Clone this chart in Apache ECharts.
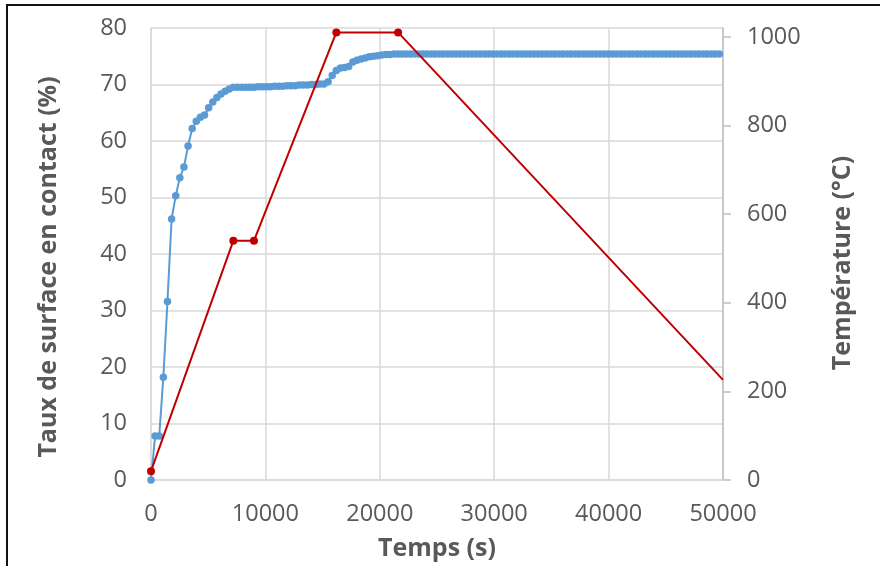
<!DOCTYPE html>
<html>
<head>
<meta charset="utf-8">
<script src="https://cdn.jsdelivr.net/npm/echarts@6/dist/echarts.min.js"></script>
<style>html,body{margin:0;padding:0;background:#fff;}#c{width:880px;height:566px;}</style>
</head>
<body>
<div id="c"></div>
<script>
// Blue series: contact surface ratio (%) vs time (s)
const contactTimes = [
0,360,720,1080,1440,1800,2160,2520,2880,3240,
3600,3960,4320,4680,5040,5400,5760,6120,6480,6840,
7200,7560,7920,8280,8640,9000,9360,9720,10080,10440,
10800,11160,11520,11880,12240,12600,12960,13320,13680,14040,
14400,14760,15120,15480,15840,16200,16560,16920,17280,17640,
18000,18360,18720,19080,19440,19800,20160,20520,20880,21240,
21600,21960,22320,22680,23040,23400,23760,24120,24480,24840,
25200,25560,25920,26280,26640,27000,27360,27720,28080,28440,
28800,29160,29520,29880,30240,30600,30960,31320,31680,32040,
32400,32760,33120,33480,33840,34200,34560,34920,35280,35640,
36000,36360,36720,37080,37440,37800,38160,38520,38880,39240,
39600,39960,40320,40680,41040,41400,41760,42120,42480,42840,
43200,43560,43920,44280,44640,45000,45360,45720,46080,46440,
46800,47160,47520,47880,48240,48600,48960,49320,49680
];
const contactValues = [
0,7.8,7.8,18.2,31.6,46.2,50.3,53.5,55.4,59.1,
62.2,63.5,64.2,64.6,65.9,66.9,67.7,68.3,68.8,69.2,
69.5,69.5,69.5,69.5,69.5,69.5,69.6,69.6,69.6,69.6,
69.7,69.7,69.7,69.8,69.8,69.8,69.9,69.9,69.9,70.0,
70.0,70.1,70.1,70.5,71.6,72.5,72.9,73.0,73.2,74.0,
74.3,74.5,74.7,74.9,75.0,75.1,75.2,75.3,75.3,75.4,
75.4,75.4,75.4,75.4,75.4,75.4,75.4,75.4,75.4,75.4,
75.4,75.4,75.4,75.4,75.4,75.4,75.4,75.4,75.4,75.4,
75.4,75.4,75.4,75.4,75.4,75.4,75.4,75.4,75.4,75.4,
75.4,75.4,75.4,75.4,75.4,75.4,75.4,75.4,75.4,75.4,
75.4,75.4,75.4,75.4,75.4,75.4,75.4,75.4,75.4,75.4,
75.4,75.4,75.4,75.4,75.4,75.4,75.4,75.4,75.4,75.4,
75.4,75.4,75.4,75.4,75.4,75.4,75.4,75.4,75.4,75.4,
75.4,75.4,75.4,75.4,75.4,75.4,75.4,75.4,75.4
];
// Red series: temperature (°C) vs time (s)
const tempTimes = [0,7200,9000,16200,21600,50000];
const tempValues = [20,540,540,1010,1010,226];
// Tick labels
const xTicks = [0,10000,20000,30000,40000,50000];
const leftTicks = [0,10,20,30,40,50,60,70,80];
const rightTicks = [0,200,400,600,800,1000];
const xTitle = 'Temps (s)';
const leftTitle = 'Taux de surface en contact (%)';
const rightTitle = 'Température (°C)';

const FONT = '"Open Sans", "Noto Sans", sans-serif';
const TXT = '#595959';
const GRID = '#d9d9d9';
const plain = v => String(v);

const chart = echarts.init(document.getElementById('c'), null, {renderer:'canvas'});
chart.setOption({
  animation:false,
  backgroundColor:'#fff',
  grid:{left:151,right:157,top:28,bottom:86,containLabel:false},
  xAxis:{
    type:'value',min:xTicks[0],max:xTicks[xTicks.length-1],interval:10000,
    axisLine:{show:true,lineStyle:{color:GRID,width:1.5}},
    axisTick:{show:false},
    splitLine:{show:true,lineStyle:{color:GRID,width:1.5}},
    axisLabel:{color:TXT,fontFamily:FONT,fontSize:23.5,margin:22,formatter:plain}
  },
  yAxis:[{
    type:'value',min:leftTicks[0],max:leftTicks[leftTicks.length-1],interval:10,
    axisLine:{show:true,lineStyle:{color:GRID,width:1.5}},
    axisTick:{show:false},
    splitLine:{show:true,lineStyle:{color:GRID,width:1.5}},
    axisLabel:{color:TXT,fontFamily:FONT,fontSize:23.5,margin:24,formatter:plain}
  },{
    type:'value',position:'right',min:0,max:1020,interval:200,
    axisLine:{show:true,lineStyle:{color:'#bfbfbf',width:1.5}},
    axisTick:{show:true,inside:false,length:8,lineStyle:{color:'#bfbfbf',width:1.5},customValues:rightTicks},
    splitLine:{show:false},
    axisLabel:{color:TXT,fontFamily:FONT,fontSize:23.5,margin:24,customValues:rightTicks,formatter:plain}
  }],
  graphic:[
    {type:'rect',shape:{x:7,y:5,width:900,height:600},style:{fill:'none',stroke:'#111',lineWidth:2},silent:true},
    {type:'text',x:437,y:549,style:{text:xTitle,font:'bold 25px '+FONT,fill:TXT,align:'center',verticalAlign:'middle'}},
    {type:'text',x:49,y:267,rotation:Math.PI/2,style:{text:leftTitle,font:'bold 25px '+FONT,fill:TXT,align:'center',verticalAlign:'middle'}},
    {type:'text',x:843,y:263,rotation:Math.PI/2,style:{text:rightTitle,font:'bold 25px '+FONT,fill:TXT,align:'center',verticalAlign:'middle'}}
  ],
  series:[{
    type:'line',yAxisIndex:0,
    data:contactTimes.map((t,i)=>[t,contactValues[i]]),
    symbol:'circle',symbolSize:7.5,showAllSymbol:true,
    lineStyle:{color:'#5B9BD5',width:2},
    itemStyle:{color:'#5B9BD5'},
    z:2
  },{
    type:'line',yAxisIndex:1,
    data:tempTimes.map((t,i)=>i===tempTimes.length-1?{value:[t,tempValues[i]],symbol:'none'}:[t,tempValues[i]]),
    symbol:'circle',symbolSize:8,showAllSymbol:true,
    lineStyle:{color:'#C00000',width:2},
    itemStyle:{color:'#C00000'},
    z:3
  }]
});
</script>
</body>
</html>
